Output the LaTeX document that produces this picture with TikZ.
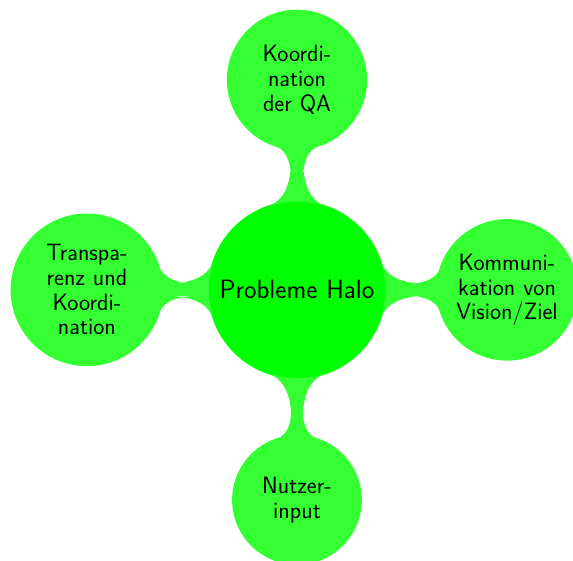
\documentclass[tikz,border=0pt]{standalone}
\usetikzlibrary{mindmap}
\renewcommand{\familydefault}{\sfdefault}
\newcommand{\rootfont}{\fontsize{18}{20}\selectfont\sffamily}
\newcommand{\conceptfont}{\fontsize{16}{16.7}\selectfont\sffamily}
\begin{document}
\begin{tikzpicture}[
  mindmap, concept color=green,
  every node/.style={concept},
  root concept/.append style={font=\rootfont, minimum size=4.2cm, text width=4.1cm},
  level 1 concept/.append style={concept color=green!80, sibling angle=90,
    font=\conceptfont, minimum size=2.95cm, text width=2.75cm}
]
\clip (-7.07,-6.45) rectangle (6.57,6.9);
\node[root concept] (halo) {Probleme Halo}
  child[grow=90] {node (qa) {Koordi-\\nation\\der QA}}
  child[grow=0] {node (vision) {Kommuni-\\kation von\\Vision/Ziel}}
  child[grow=-90] {node (input) {Nutzer-\\input}}
  child[grow=180] {node (transp) {Transpa-\\renz und\\Koordi-\\nation}};
\end{tikzpicture}
\end{document}
